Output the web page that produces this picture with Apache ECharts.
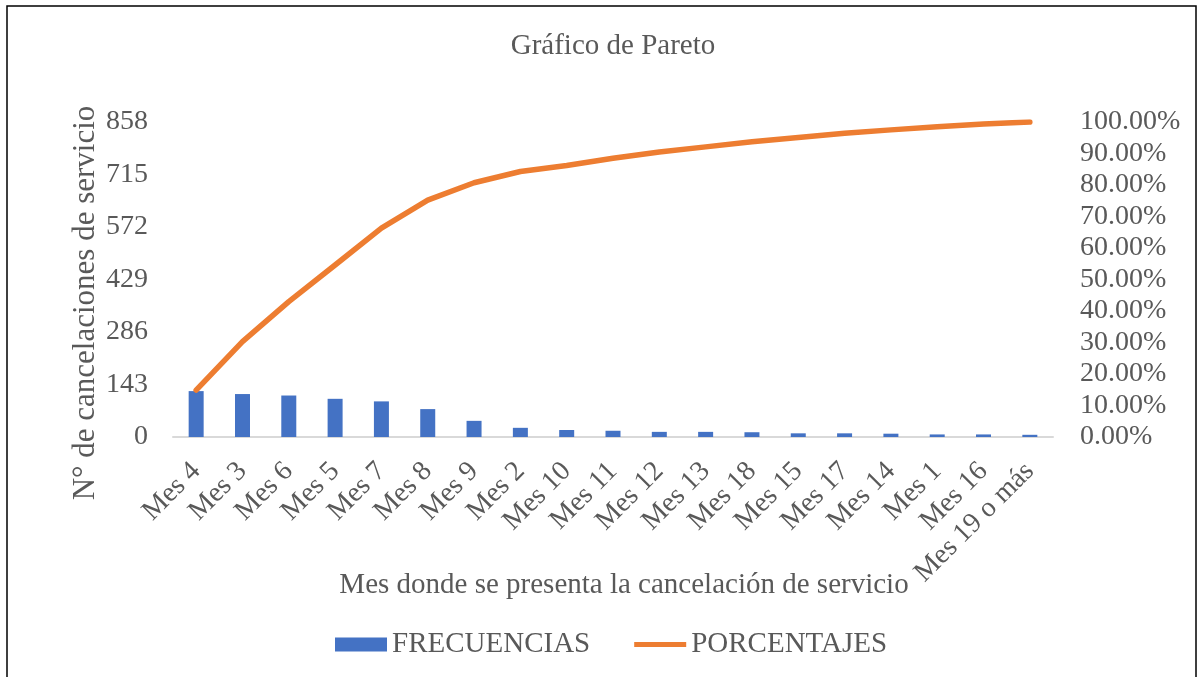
<!DOCTYPE html>
<html>
<head>
<meta charset="utf-8">
<script src="https://cdn.jsdelivr.net/npm/echarts@6/dist/echarts.min.js"></script>
<style>
html,body{margin:0;padding:0;background:#fff;}
#chart{width:1204px;height:677px;}
</style>
</head>
<body>
<div id="chart"></div>
<script>
var categories = ['Mes 4','Mes 3','Mes 6','Mes 5','Mes 7','Mes 8','Mes 9','Mes 2','Mes 10','Mes 11','Mes 12','Mes 13','Mes 18','Mes 15','Mes 17','Mes 14','Mes 1','Mes 16','Mes 19 o más'];
var frecuencias = [125,117,113,104,97,76,44,25,19,17,14,14,13,10,10,9,7,7,6];
var porcentajes = [0.149,0.303,0.430,0.546,0.663,0.752,0.807,0.843,0.862,0.885,0.905,0.921,0.937,0.951,0.964,0.975,0.985,0.994,1.000];
var leftTicks = [0,143,286,429,572,715,858];

var FONT = '"Liberation Serif", "Times New Roman", serif';
var TXT = '#595959';

var chart = echarts.init(document.getElementById('chart'));
chart.setOption({
  animation: false,
  backgroundColor: '#fff',
  title: {
    text: 'Gráfico de Pareto',
    left: 608, top: 27, textAlign: 'center',
    textStyle: {fontFamily: FONT, fontSize: 29, fontWeight: 'normal', color: TXT}
  },
  graphic: [
    {type: 'rect', shape: {x: 7, y: 6, width: 1189, height: 690}, style: {fill: 'none', stroke: '#000', lineWidth: 1.5}, silent: true},
    {type: 'text', x: 86, y: 303, rotation: Math.PI/2,
     style: {text: 'N° de cancelaciones de servicio', font: '31px ' + FONT, fill: TXT, textAlign: 'center', textVerticalAlign: 'middle'}},
    {type: 'text', x: 624, y: 585,
     style: {text: 'Mes donde se presenta la cancelación de servicio', font: '29px ' + FONT, fill: TXT, textAlign: 'center', textVerticalAlign: 'middle'}}
  ],
  legend: {
    left: 330, top: 625,
    itemGap: 44, itemWidth: 52, itemHeight: 14,
    textStyle: {fontFamily: FONT, fontSize: 29, color: TXT, padding: [0,0,0,0]},
    data: [
      {name: 'FRECUENCIAS', icon: 'rect'},
      {name: 'PORCENTAJES', icon: 'path://M0,0 L52,0 L52,5 L0,5 Z', itemStyle: {color: '#ED7D31'}}
    ]
  },
  grid: {left: 173, right: 151, top: 122, bottom: 240, containLabel: false},
  xAxis: {
    type: 'category', data: categories, boundaryGap: true,
    axisLine: {show: true, lineStyle: {color: '#D9D9D9', width: 2}},
    axisTick: {show: false},
    axisLabel: {interval: 0, rotate: 45, margin: 30, fontFamily: FONT, fontSize: 28, color: TXT}
  },
  yAxis: [
    {type: 'value', min: 0, max: 858, interval: 143,
     axisLine: {show: false}, axisTick: {show: false}, splitLine: {show: false},
     axisLabel: {margin: 25, fontFamily: FONT, fontSize: 28, color: TXT,
       formatter: function(v){ return leftTicks.indexOf(v) >= 0 ? String(v) : ''; }}},
    {type: 'value', min: 0, max: 1, interval: 0.1, position: 'right',
     axisLine: {show: false}, axisTick: {show: false}, splitLine: {show: false},
     axisLabel: {margin: 27, fontFamily: FONT, fontSize: 28, color: TXT,
       formatter: function(v){ return (v*100).toFixed(2) + '%'; }}}
  ],
  series: [
    {name: 'FRECUENCIAS', type: 'bar', data: frecuencias, barWidth: 15, yAxisIndex: 0,
     itemStyle: {color: '#4472C4'}},
    {name: 'PORCENTAJES', type: 'line', data: porcentajes, yAxisIndex: 1,
     showSymbol: false, symbol: 'none',
     lineStyle: {color: '#ED7D31', width: 5.5, cap: 'round', join: 'round'},
     itemStyle: {color: '#ED7D31'}}
  ]
});
</script>
</body>
</html>
